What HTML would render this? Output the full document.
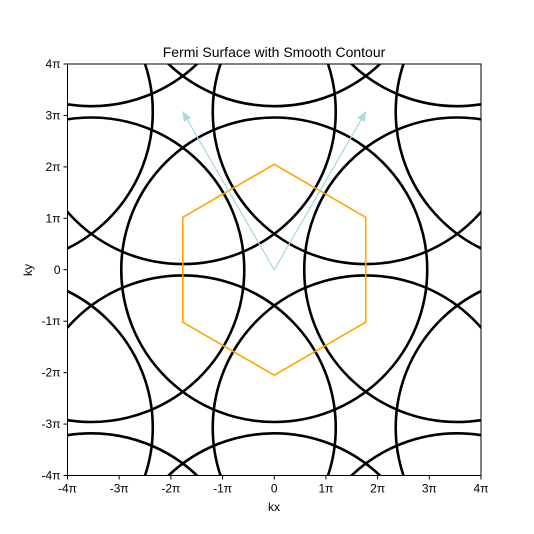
<!DOCTYPE html>
<html><head><meta charset="utf-8"><style>
html,body{margin:0;padding:0;background:#fff;width:534px;height:534px;overflow:hidden}
svg{display:block;font-family:"Liberation Sans","DejaVu Sans",sans-serif}
</style></head><body>
<svg id="chart" width="534" height="534" viewBox="0 0 534 534">
<defs><clipPath id="clip"><rect x="67.5" y="64" width="413.5" height="411.5"/></clipPath>
<marker id="ah" viewBox="0 0 10 10" refX="9" refY="5" markerWidth="8" markerHeight="8" orient="auto"><path d="M0,1 L10,5 L0,9 Z" fill="#add8e6"/></marker></defs>
<rect x="0" y="0" width="534" height="534" fill="#fff"/>
<g id="contours" clip-path="url(#clip)"></g>
<g id="overlay" clip-path="url(#clip)"></g>
<rect x="67.5" y="64" width="413.5" height="411.5" fill="none" stroke="#000" stroke-width="1"/>
<g id="axes"></g>
<text x="274" y="57" text-anchor="middle" font-size="14">Fermi Surface with Smooth Contour</text>
<text x="274" y="511" text-anchor="middle" font-size="12">kx</text>
<text x="32" y="270" text-anchor="middle" font-size="12" transform="rotate(-90 32 270)">ky</text>
</svg>
<script>
const PI = Math.PI;
const b1 = [-1.77*PI, 3.07*PI];
const b2 = [1.77*PI, 3.07*PI];
const fermiRadius = [2.96*PI];
const hexVertices = [[0,2.05],[1.77,1.02],[1.77,-1.02],[0,-2.05],[-1.77,-1.02],[-1.77,1.02]];
const tickValues = [-4,-3,-2,-1,0,1,2,3,4];
const tickLabels = ["-4π","-3π","-2π","-1π","0","1π","2π","3π","4π"];

const X0=67.5,X1=481,Y0=475.5,Y1=64,LIM=4*PI;
const sx=v=>X0+(v+LIM)/(2*LIM)*(X1-X0);
const sy=v=>Y0-(v+LIM)/(2*LIM)*(Y0-Y1);
const NS="http://www.w3.org/2000/svg";
const mk=(t,a,p)=>{const e=document.createElementNS(NS,t);for(const k in a)e.setAttribute(k,a[k]);p.appendChild(e);return e;};

const cg=document.getElementById('contours');
const R=fermiRadius[0];
for(let n=-4;n<=4;n++)for(let m=-4;m<=4;m++){
  const cx=n*b1[0]+m*b2[0], cy=n*b1[1]+m*b2[1];
  if(Math.abs(cx)>LIM+R||Math.abs(cy)>LIM+R) continue;
  const el=mk('ellipse',{cx:sx(cx),cy:sy(cy),rx:sx(R)-sx(0),ry:sy(0)-sy(R),fill:'none',stroke:'#000','stroke-width':2.6},cg);
  
  
}
const og=document.getElementById('overlay');
const hex=mk('polygon',{points:hexVertices.map(v=>sx(v[0]*PI)+','+sy(v[1]*PI)).join(' '),fill:'none',stroke:'#ffa500','stroke-width':1.6},og);


[b1,b2].forEach((b,i)=>{
  const a=mk('line',{x1:sx(0),y1:sy(0),x2:sx(b[0]),y2:sy(b[1]),stroke:'#add8e6','stroke-width':1.3,'marker-end':'url(#ah)'},og);
  
  
});
const ag=document.getElementById('axes');
tickValues.forEach((t,i)=>{
  const x=sx(t*PI), y=sy(t*PI);
  mk('line',{x1:x,y1:Y0,x2:x,y2:Y0+4,stroke:'#000'},ag);
  const tx=mk('text',{x:x,y:Y0+17,'text-anchor':'middle','font-size':12},ag);
  tx.textContent=tickLabels[i];
  
  
  mk('line',{x1:X0-4,y1:y,x2:X0,y2:y,stroke:'#000'},ag);
  const ty=mk('text',{x:X0-7,y:y+4,'text-anchor':'end','font-size':12},ag);
  ty.textContent=tickLabels[i];
  
  
});
</script>
</body></html>
